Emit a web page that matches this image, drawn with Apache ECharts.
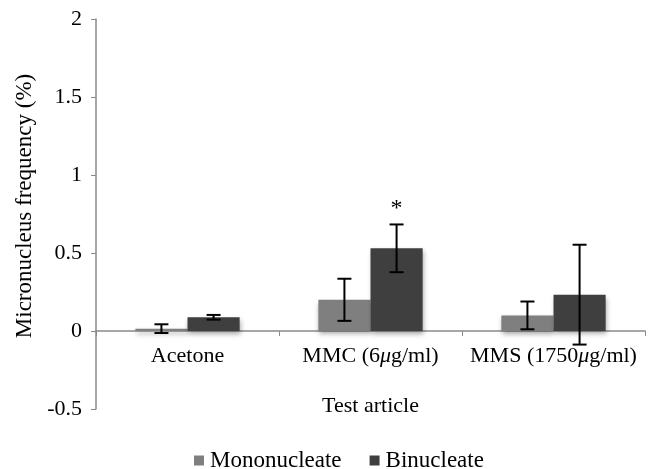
<!DOCTYPE html>
<html><head><meta charset="utf-8">
<script src="https://cdn.jsdelivr.net/npm/echarts@6/dist/echarts.min.js"></script>
<style>html,body{margin:0;padding:0;background:#fff}#c{width:648px;height:469px}</style>
</head><body><div id="c"></div>
<script>
const categories = ['Acetone', 'MMC (6μg/ml)', 'MMS (1750μg/ml)'];
const monoValues = [0.015, 0.2, 0.1];
const monoErrors = [0.028, 0.135, 0.089];
const binValues = [0.088, 0.53, 0.233];
const binErrors = [0.015, 0.153, 0.32];
const binSignif = ['', '*', ''];
const yTicks = [-0.5, 0, 0.5, 1, 1.5, 2];

const FONT = '"Liberation Serif", "Times New Roman", serif';
const chart = echarts.init(document.getElementById('c'));

function errSeries(name, values, errors, idx, marks) {
  return {
    type: 'custom', name: name + ' err', z: 10, silent: true,
    data: values.map((v, i) => [i, v, errors[i]]),
    renderItem: function (params, api) {
      const ci = api.value(0), v = api.value(1), e = api.value(2);
      const bw = api.size([1, 0])[0];
      const groupW = bw * 0.57;
      const barW = groupW / 2;
      const cx = api.coord([ci, 0])[0] - groupW / 2 + barW * (idx + 0.5);
      const top = api.coord([ci, v + e])[1];
      const bot = api.coord([ci, v - e])[1];
      const cap = 7;
      const st = { stroke: '#000', lineWidth: 2 };
      const children = [
        { type: 'line', shape: { x1: cx, y1: top, x2: cx, y2: bot }, style: st },
        { type: 'line', shape: { x1: cx - cap, y1: top, x2: cx + cap, y2: top }, style: st },
        { type: 'line', shape: { x1: cx - cap, y1: bot, x2: cx + cap, y2: bot }, style: st }
      ];
      const m = marks ? marks[ci] : '';
      if (m) {
        children.push({ type: 'text', style: { text: m, x: cx, y: top - 4, align: 'center', verticalAlign: 'bottom', font: '24px ' + FONT, fill: '#000' } });
      }
      return { type: 'group', children: children };
    }
  };
}

const barShadow = { shadowBlur: 5, shadowOffsetY: 3, shadowOffsetX: 1, shadowColor: 'rgba(0,0,0,0.35)' };

chart.setOption({
  animation: false,
  textStyle: { fontFamily: FONT },
  grid: { left: 96, right: 3, top: 19, bottom: 60, outerBoundsMode: 'none', containLabel: false },
  legend: {
    top: 449, left: 194, padding: 0, itemWidth: 10, itemHeight: 10, itemGap: 28,
    icon: 'rect',
    data: ['Mononucleate', 'Binucleate'],
    textStyle: { fontSize: 23, color: '#000', fontFamily: FONT, padding: [0, 0, 0, 1] }
  },
  xAxis: {
    type: 'category', data: categories,
    name: 'Test article', nameLocation: 'middle', nameGap: -3, nameMoveOverlap: false,
    nameTextStyle: { fontSize: 22, color: '#000', fontFamily: FONT, verticalAlign: 'middle' },
    axisLine: { onZero: true, lineStyle: { color: '#8a8a8a', width: 1.5 } },
    axisTick: { show: true, length: 5, lineStyle: { color: '#8a8a8a' } },
    axisLabel: {
      interval: 0, margin: -64, fontSize: 22, color: '#000', fontFamily: FONT,
      formatter: function (s) { return s.replace('μ', '{i|μ}'); },
      rich: { i: { fontStyle: 'italic', fontSize: 22, fontFamily: FONT, color: '#000' } }
    }
  },
  yAxis: {
    type: 'value', min: yTicks[0], max: yTicks[yTicks.length - 1], interval: 0.5,
    name: 'Micronucleus frequency (%)', nameLocation: 'middle', nameGap: 60, nameMoveOverlap: false,
    nameTextStyle: { fontSize: 23, color: '#000', fontFamily: FONT, padding: [0, 0, 0, 16] },
    splitLine: { show: false },
    axisLine: { show: true, lineStyle: { color: '#8a8a8a', width: 1.5 } },
    axisTick: { show: true, length: 5, lineStyle: { color: '#8a8a8a' } },
    axisLabel: { margin: 14, fontSize: 22, color: '#000', fontFamily: FONT }
  },
  series: [
    { name: 'Mononucleate', type: 'bar', data: monoValues, barGap: '0%', barCategoryGap: '43%',
      itemStyle: Object.assign({ color: '#7f7f7f' }, barShadow) },
    { name: 'Binucleate', type: 'bar', data: binValues, barGap: '0%', barCategoryGap: '43%',
      itemStyle: Object.assign({ color: '#3f3f3f' }, barShadow) },
    errSeries('Mononucleate', monoValues, monoErrors, 0, null),
    errSeries('Binucleate', binValues, binErrors, 1, binSignif)
  ]
});
</script></body></html>
